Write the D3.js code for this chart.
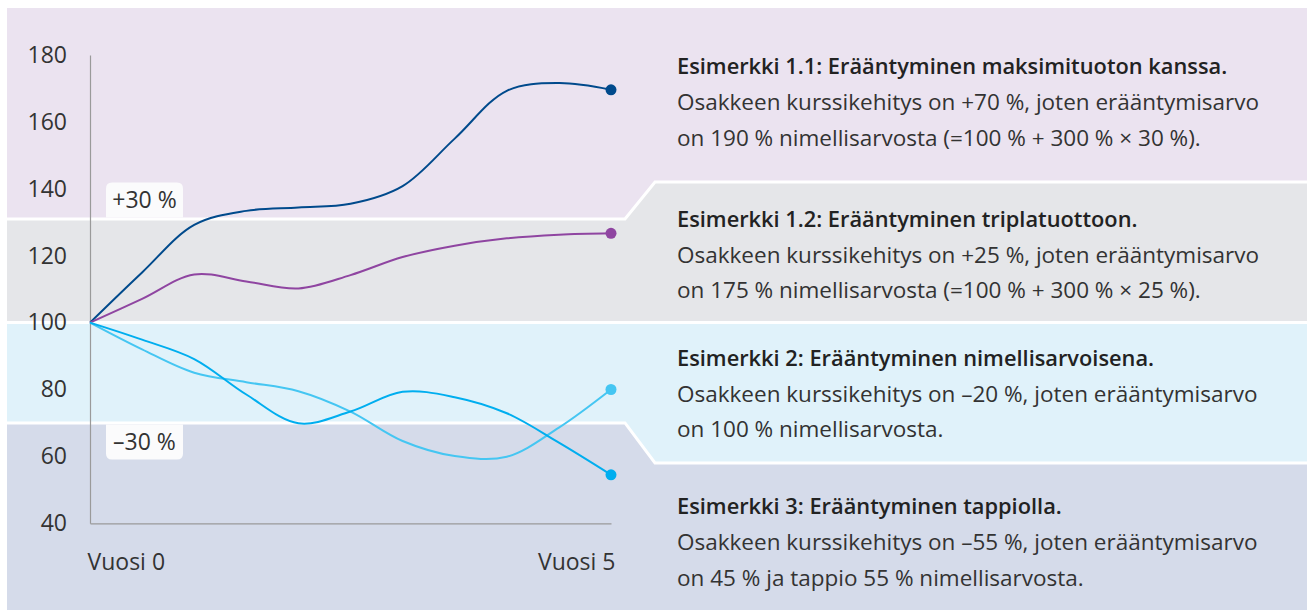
<!DOCTYPE html>
<html>
<head>
<meta charset="utf-8">
<script src="https://cdn.jsdelivr.net/npm/d3@7"></script>
<style>
  body { margin: 0; background: #fff; }
  svg { display: block; font-family: "Open Sans", sans-serif; }
  .axis { font-family: "Open Sans", sans-serif; }
  .axis path { stroke: #9a9a9a; stroke-width: 1.2px; }
  .axis text { fill: #333; font-size: 23px; }
  .line { fill: none; stroke-width: 2px; }
</style>
</head>
<body>
<div class="chart"></div>
<script>
// years 0..5, sampled every half year
var years = [0, 0.5, 1, 1.5, 2, 2.5, 3, 3.5, 4, 4.5, 5];
var maxReturn = [100, 115, 129.2, 133.4, 134.4, 135.5, 140.8, 155, 169.3, 171.6, 169.6];
var tripleReturn = [100, 107.1, 114.4, 112.3, 110.2, 114.2, 119.6, 123, 125.2, 126.3, 126.7];
var parValue = [100, 92, 85, 82.2, 79.5, 73.4, 64.6, 60.1, 59.9, 68.6, 80];
var lossValue = [100, 94.9, 89.1, 78.5, 69.9, 73.4, 79.3, 77.7, 72.9, 64.1, 54.5];

var yTicks = [40, 60, 80, 100, 120, 140, 160, 180];
var xTicks = [0, 5];
var xTickLabels = ["Vuosi 0", "Vuosi 5"];

// band edges (index level) and their labels
var upperEdge = 131, middleEdge = 100, lowerEdge = 70;
var bandLabels = ["+30 %", "\u201330 %"];

var exampleTitles = [
  "Esimerkki 1.1: Erääntyminen maksimituoton kanssa.",
  "Esimerkki 1.2: Erääntyminen triplatuottoon.",
  "Esimerkki 2: Erääntyminen nimellisarvoisena.",
  "Esimerkki 3: Erääntyminen tappiolla."
];
var exampleTexts = [
  ["Osakkeen kurssikehitys on +70 %, joten erääntymisarvo", "on 190 % nimellisarvosta (=100 % + 300 % \u00d7 30 %)."],
  ["Osakkeen kurssikehitys on +25 %, joten erääntymisarvo", "on 175 % nimellisarvosta (=100 % + 300 % \u00d7 25 %)."],
  ["Osakkeen kurssikehitys on \u201320 %, joten erääntymisarvo", "on 100 % nimellisarvosta."],
  ["Osakkeen kurssikehitys on \u201355 %, joten erääntymisarvo", "on 45 % ja tappio 55 % nimellisarvosta."]
];

var seriesColors = ["#004a8c", "#8f45a1", "#45c6f2", "#00aeef"];
var bandColors = ["#ebe3f0", "#e5e6e9", "#e0f2fa", "#d5dbea"];

var W = 1307, H = 610;
var panelLeft = 7, panelTop = 8;
var stepX0 = 625, stepX1 = 655;

var x = d3.scaleLinear().domain([0, 5]).range([90, 611]);
var y = d3.scaleLinear().domain([40, 180]).range([523.3, 55]);

var svg = d3.select(".chart").append("svg")
    .attr("width", W)
    .attr("height", H);

// background bands
var topLine = [[panelLeft, panelTop], [W, panelTop]];
var upperLine = [[panelLeft, y(upperEdge)], [stepX0, y(upperEdge)], [stepX1, 182], [W, 182]];
var midLine = [[panelLeft, y(middleEdge)], [W, y(middleEdge)]];
var lowerLine = [[panelLeft, y(lowerEdge)], [stepX0, y(lowerEdge)], [stepX1, 463], [W, 463]];
var bottomLine = [[panelLeft, H], [W, H]];
var edges = [topLine, upperLine, midLine, lowerLine, bottomLine];

var poly = d3.line();
for (var i = 0; i < 4; i++) {
  var pts = edges[i].concat(edges[i + 1].slice().reverse());
  svg.append("path")
    .attr("d", poly(pts) + "Z")
    .style("fill", bandColors[i]);
}
[upperLine, midLine, lowerLine].forEach(function(l) {
  svg.append("path")
    .attr("d", poly(l))
    .style("fill", "none")
    .style("stroke", "#fff")
    .style("stroke-width", 3);
});

// +30 % / -30 % label boxes
function roundedBox(x0, y0, w, h, r, top) {
  if (top) {
    return "M" + x0 + "," + (y0 + h) + "V" + (y0 + r) + "Q" + x0 + "," + y0 + " " + (x0 + r) + "," + y0 +
      "H" + (x0 + w - r) + "Q" + (x0 + w) + "," + y0 + " " + (x0 + w) + "," + (y0 + r) + "V" + (y0 + h) + "Z";
  }
  return "M" + x0 + "," + y0 + "V" + (y0 + h - r) + "Q" + x0 + "," + (y0 + h) + " " + (x0 + r) + "," + (y0 + h) +
    "H" + (x0 + w - r) + "Q" + (x0 + w) + "," + (y0 + h) + " " + (x0 + w) + "," + (y0 + h - r) + "V" + y0 + "Z";
}
var upY = y(upperEdge) - 1.5, lowY = y(lowerEdge) + 1.5;
svg.append("path").attr("d", roundedBox(106, upY - 35, 77, 35, 6, true)).style("fill", "#fbfbfc");
svg.append("path").attr("d", roundedBox(106, lowY, 77, 35, 6, false)).style("fill", "#fbfbfc");
svg.append("text")
    .attr("x", 144.5).attr("y", upY - 17.5).attr("dy", "0.35em")
    .attr("text-anchor", "middle")
    .style("font-size", "23px").style("fill", "#333")
    .text(bandLabels[0]);
svg.append("text")
    .attr("x", 144.5).attr("y", lowY + 17.5).attr("dy", "0.35em")
    .attr("text-anchor", "middle")
    .style("font-size", "23px").style("fill", "#333")
    .text(bandLabels[1]);

// axes
svg.append("g")
    .attr("class", "axis")
    .attr("transform", "translate(" + x(0) + ",0)")
    .call(d3.axisLeft(y).tickValues(yTicks).tickSize(0).tickPadding(23));

svg.append("g")
    .attr("class", "axis")
    .attr("transform", "translate(0," + y(40) + ")")
    .call(d3.axisBottom(x).tickValues(xTicks).tickSize(0).tickPadding(30)
      .tickFormat(function(d, i) { return xTickLabels[i]; }))
    .selectAll("text")
    .attr("text-anchor", function(d, i) { return i == 0 ? "start" : "end"; })
    .attr("dx", function(d, i) { return i == 0 ? "-3" : "4"; });

svg.selectAll(".axis .domain").attr("fill", "none");

// lines
var allSeries = [maxReturn, tripleReturn, parValue, lossValue];
var line = d3.line()
    .curve(d3.curveCatmullRom.alpha(0.5))
    .x(function(d, i) { return x(years[i]); })
    .y(function(d) { return y(d); });

allSeries.forEach(function(s, k) {
  svg.append("path")
    .datum(s)
    .attr("class", "line")
    .style("stroke", seriesColors[k])
    .attr("d", line);
  svg.append("circle")
    .attr("cx", x(years[years.length - 1]))
    .attr("cy", y(s[s.length - 1]))
    .attr("r", 5.5)
    .style("fill", seriesColors[k]);
});

// example texts on the right
var blockTops = [66.7, 219, 358, 506.7];
var lineGap = 35.8;
exampleTitles.forEach(function(t, i) {
  svg.append("text")
    .attr("x", 677).attr("y", blockTops[i]).attr("dy", "0.35em")
    .style("font-size", "21.8px").style("font-weight", 600).style("fill", "#222")
    .text(t);
  exampleTexts[i].forEach(function(row, j) {
    svg.append("text")
      .attr("x", 677).attr("y", blockTops[i] + (j + 1) * lineGap).attr("dy", "0.35em")
      .style("font-size", "22.5px").style("fill", "#333")
      .text(row);
  });
});
</script>
</body>
</html>
